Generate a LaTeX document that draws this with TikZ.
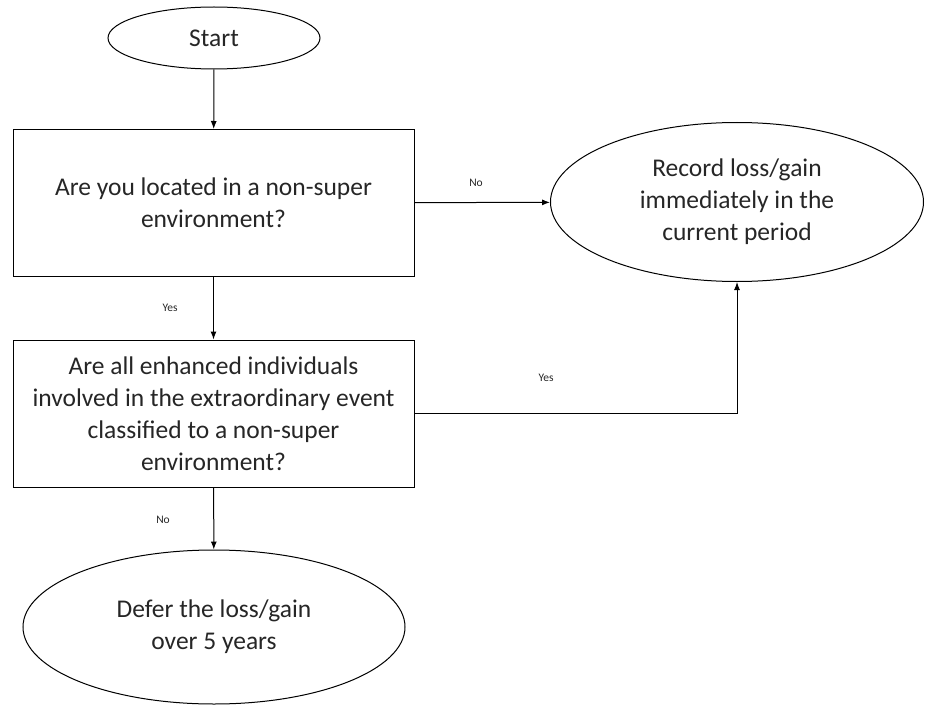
\documentclass[tikz,border=0pt]{standalone}
\usepackage{fontspec}
\setmainfont{Carlito}
\usetikzlibrary{shapes.geometric,arrows.meta}
\begin{document}
\begin{tikzpicture}[x=1pt,y=-1pt,
    every node/.style={font=\fontsize{25.5}{32}\selectfont, align=center, text=black!85},
    term/.style={draw, ellipse, inner sep=0pt, line width=1pt},
    question/.style={draw, rectangle, minimum width=401pt, minimum height=147pt, inner sep=0pt, line width=1pt},
    lbl/.style={font=\fontsize{11.5}{13}\selectfont},
    flow/.style={-{Latex[length=8pt,width=6pt]}, line width=1pt}]
  \useasboundingbox (0,0) rectangle (926,706);
  \node[term, minimum width=212pt, minimum height=62pt] (start) at (214,38) {Start};
  \node[question] (q1) at (213.5,203) {Are you located in a non-super\\environment?};
  \node[term, minimum width=373pt, minimum height=159pt] (record) at (737,202)
    {Record loss/gain\\immediately in the\\current period};
  \node[question] (q2) at (213.5,413.5) {Are all enhanced individuals\\involved in the extraordinary event\\classified to a non-super\\environment?};
  \node[term, minimum width=382pt, minimum height=154pt] (defer) at (214,627)
    {Defer the loss/gain\\over 5 years};
  % labels
  \node[lbl] (no1) at (476,183) {No};
  \node[lbl] (yes1) at (170,308) {Yes};
  \node[lbl] (yes2) at (546,378) {Yes};
  \node[lbl] (no2) at (163,520) {No};
  % connectors
  \begin{scope}[flow]
    \draw (start) -- (q1);
    \draw (q1) -- (record);
    \draw (q1) -- (q2);
    \draw (q2.east) -| (record.south);
    \draw (q2) -- (defer);
  \end{scope}
\end{tikzpicture}
\end{document}
